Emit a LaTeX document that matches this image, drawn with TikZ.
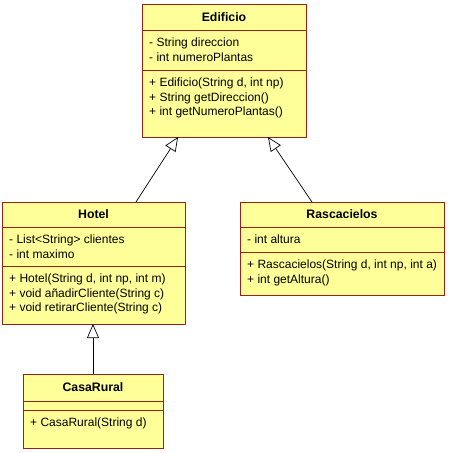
\documentclass[tikz,border=0pt]{standalone}
\usepackage{fontspec}
\setmainfont{Liberation Sans}
\usetikzlibrary{arrows.meta,calc}
\definecolor{umlfill}{RGB}{255,255,153}
\definecolor{umlline}{RGB}{155,35,20}
\begin{document}
\begin{tikzpicture}[x=1pt,y=-1pt,
  comp/.style={draw=umlline,fill=umlfill,line width=0.8pt,inner sep=0pt,outer sep=0pt,anchor=north west},
  ttl/.style={font=\fontsize{12.3}{14}\selectfont\bfseries,inner sep=0pt},
  txt/.style={font=\fontsize{12}{14}\selectfont,inner sep=0pt,anchor=base west},
  inh/.style={draw=black,line width=0.7pt,-{Triangle[fill=white,length=14pt,width=12pt]}}]
\useasboundingbox (0,0) rectangle (449,453);
\fill[white] (0,0) rectangle (449,453);
% Edificio
\node[comp,minimum width=164pt,minimum height=26pt] (eT) at (142,4) {};
\node[comp,minimum width=164pt,minimum height=40pt] (eA) at (142,30) {};
\node[comp,minimum width=164pt,minimum height=67pt] (eM) at (142,70) {};
\node[ttl] (eTt) at (eT.center) {Edificio};
\node[txt] (eA1) at (149,46.5) {- String direccion};
\node[txt] (eA2) at (149,61) {- int numeroPlantas};
\node[txt] (eM1) at (149,86.5) {+ Edificio(String d, int np)};
\node[txt] (eM2) at (149,101) {+ String getDireccion()};
\node[txt] (eM3) at (149,115.5) {+ int getNumeroPlantas()};
% Hotel
\node[comp,minimum width=183pt,minimum height=25pt] (hT) at (2,202) {};
\node[comp,minimum width=183pt,minimum height=39pt] (hA) at (2,227) {};
\node[comp,minimum width=183pt,minimum height=58pt] (hM) at (2,266) {};
\node[ttl] (hTt) at (hT.center) {Hotel};
\node[txt] (hA1) at (9,243.5) {- List<String> clientes};
\node[txt] (hA2) at (9,258) {- int maximo};
\node[txt] (hM1) at (9,282.5) {+ Hotel(String d, int np, int m)};
\node[txt] (hM2) at (9,297) {+ void añadirCliente(String c)};
\node[txt] (hM3) at (9,311.5) {+ void retirarCliente(String c)};
% Rascacielos
\node[comp,minimum width=204pt,minimum height=25pt] (rT) at (240,202) {};
\node[comp,minimum width=204pt,minimum height=25pt] (rA) at (240,227) {};
\node[comp,minimum width=204pt,minimum height=43pt] (rM) at (240,252) {};
\node[ttl] (rTt) at (rT.center) {Rascacielos};
\node[txt] (rA1) at (247,243.5) {- int altura};
\node[txt] (rM1) at (247,268.5) {+ Rascacielos(String d, int np, int a)};
\node[txt] (rM2) at (247,283) {+ int getAltura()};
% CasaRural
\node[comp,minimum width=140pt,minimum height=27pt] (cT) at (23,374) {};
\node[comp,minimum width=140pt,minimum height=9pt] (cA) at (23,401) {};
\node[comp,minimum width=140pt,minimum height=38pt] (cM) at (23,410) {};
\node[ttl] (cTt) at (cT.center) {CasaRural};
\node[txt] (cM1) at (30,426.5) {+ CasaRural(String d)};
% Inheritance
\draw[inh] ($(hT.north west)!0.732!(hT.north east)$) -- ($(eM.south west)!0.22!(eM.south east)$);
\draw[inh] ($(rT.north west)!0.353!(rT.north east)$) -- ($(eM.south west)!0.768!(eM.south east)$);
\draw[inh] (cT.north) -- (cT.north |- hM.south);
\end{tikzpicture}
\end{document}
